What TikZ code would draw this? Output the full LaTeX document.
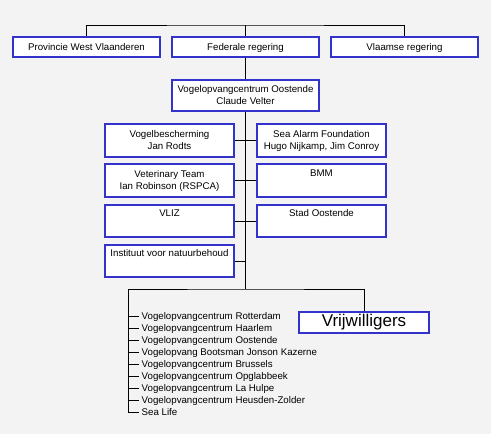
\documentclass[tikz,border=0pt]{standalone}
\usepackage{fontspec}
\setmainfont{Liberation Sans}
\definecolor{boxblue}{HTML}{3333CC}
\definecolor{bggrey}{HTML}{F3F3F3}
\begin{document}
\begin{tikzpicture}[x=1pt,y=-1pt,
  box/.style={draw=boxblue, fill=white, line width=1.3pt, inner sep=0pt, align=center,
    font=\fontsize{9.7}{12}\selectfont},
  conn/.style={line width=1pt, black},
  item/.style={anchor=west, inner sep=2.5pt, text height=7pt, text depth=1pt,
    font=\fontsize{9.7}{12}\selectfont}]
\fill[bggrey] (0,0) rectangle (491,434);
\useasboundingbox (0,0) rectangle (491,434);
% top row
\node[box, minimum width=147pt, minimum height=20pt, text height=7pt, text depth=1pt] (prov) at (86.5,47) {Provincie West Vlaanderen};
\node[box, minimum width=147pt, minimum height=20pt, text height=7pt, text depth=1pt] (fed) at (245.5,47) {Federale regering};
\node[box, minimum width=147pt, minimum height=20pt, text height=7pt, text depth=1pt] (vla) at (404.5,47) {Vlaamse regering};
\node[box, minimum width=147pt, minimum height=31pt] (vog) at (245.5,95.5) {Vogelopvangcentrum Oostende\\Claude Velter};
% left column
\node[box, minimum width=129pt, minimum height=33pt] (l1) at (169.5,140.5) {Vogelbescherming\\Jan Rodts};
\node[box, minimum width=129pt, minimum height=33pt] (l2) at (169.5,180.5) {Veterinary Team\\Ian Robinson (RSPCA)};
\node[box, minimum width=129pt, minimum height=32pt] (l3) at (169.5,221) {VLIZ\\\strut};
\node[box, minimum width=129pt, minimum height=32pt] (l4) at (169.5,261) {Instituut voor natuurbehoud\\\strut};
% right column
\node[box, minimum width=129pt, minimum height=33pt] (r1) at (321.5,140.5) {Sea Alarm Foundation\\Hugo Nijkamp, Jim Conroy};
\node[box, minimum width=129pt, minimum height=33pt] (r2) at (321.5,180.5) {BMM\\\strut};
\node[box, minimum width=129pt, minimum height=32pt] (r3) at (321.5,221) {Stad Oostende\\\strut};
% volunteers
\node[box, minimum width=130pt, minimum height=21pt, font=\fontsize{17}{20}\selectfont] (vrij) at (364,322.5) {Vrijwilligers};
% list
\node[item] (i1) at (139,316) {Vogelopvangcentrum Rotterdam};
\node[item] (i2) at (139,328) {Vogelopvangcentrum Haarlem};
\node[item] (i3) at (139,340) {Vogelopvangcentrum Oostende};
\node[item] (i4) at (139,352) {Vogelopvang Bootsman Jonson Kazerne};
\node[item] (i5) at (139,364) {Vogelopvangcentrum Brussels};
\node[item] (i6) at (139,376) {Vogelopvangcentrum Opglabbeek};
\node[item] (i7) at (139,388) {Vogelopvangcentrum La Hulpe};
\node[item] (i8) at (139,400) {Vogelopvangcentrum Heusden-Zolder};
\node[item] (i9) at (139,412) {Sea Life};
% connectors
\coordinate (top) at (245.5,25);
\coordinate (j) at (245.5,289);
\coordinate (jl) at (128,289);
\draw[conn] (prov.north) |- (top) -| (vla.north);
\draw[conn] (fed.north) -- (top);
\draw[conn] (fed.south) -- (vog.north);
\draw[conn] (vog.south) -- (j);
\draw[conn] (l1.east) -- (r1.west);
\draw[conn] (l2.east) -- (r2.west);
\draw[conn] (l3.east) -- (r3.west);
\draw[conn] (l4.east) -- (l4.east -| j);
\draw[conn] (jl) -- (j) -| (vrij.north);
\draw[conn] (jl) |- (i9.west);
\foreach \k in {1,...,8} \draw[conn] (jl |- i\k.west) -- (i\k.west);
\end{tikzpicture}
\end{document}
